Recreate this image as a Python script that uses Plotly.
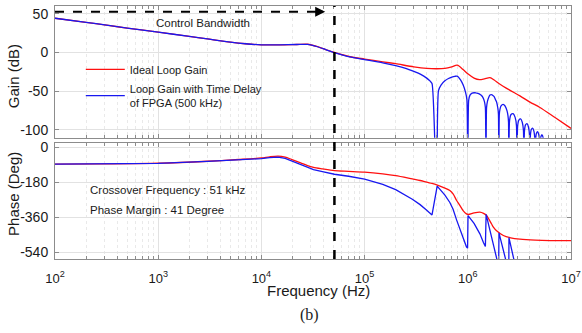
import math
import plotly.graph_objects as go

# ---------------- data ----------------
# Gain (dB) of the ideal loop
f_gain_ideal = [100, 200, 316, 500, 1000, 2000, 3000, 5000, 7000, 10000, 15000, 22000, 28000, 35000,
                42000, 51000, 72000, 100000, 150000, 200000, 300000, 400000, 500000, 600000, 700000,
                790000, 900000, 1000000, 1150000, 1300000, 1450000, 1640000, 1800000, 2000000, 2500000,
                3200000, 4000000, 5000000, 7000000, 10000000]
g_ideal = [44.2, 39.0, 35.2, 31.5, 26.2, 20.8, 17.5, 13.4, 11.3, 9.9, 9.8, 10.3, 10.6, 7.5,
           3.8, 0.0, -5.5, -8.5, -12.0, -14.5, -18.5, -20.5, -21.0, -20.5, -18.5,
           -16.3, -22.0, -27.5, -33.0, -35.0, -34.0, -32.5, -35.5, -40.0, -48.0,
           -56.0, -64.0, -71.0, -84.0, -98.0]

# Gain (dB) with FPGA time delay (notches read as far below the axis)
f_gain_delay = [100, 200, 316, 500, 1000, 2000, 3000, 5000, 7000, 10000, 15000, 22000, 28000, 35000,
                42000, 51000, 72000, 100000, 150000, 200000, 250000, 300000, 350000, 400000, 430000,
                450000, 500000, 520000, 550000, 600000, 650000, 700000, 750000, 790000, 850000, 900000,
                950000, 980000, 1000000, 1020000, 1050000, 1100000, 1150000, 1200000, 1250000, 1300000,
                1350000, 1400000, 1450000, 1480000, 1500000, 1520000, 1550000, 1600000, 1640000, 1700000,
                1750000, 1800000, 1850000, 1900000, 1950000, 1980000, 2000000, 2020000, 2050000, 2100000,
                2200000, 2250000, 2300000, 2400000, 2450000, 2480000, 2500000,
                2540000, 2625000, 2750000, 2875000, 2960000, 3000000,
                3040000, 3125000, 3250000, 3375000, 3460000, 3500000,
                3540000, 3625000, 3750000, 3875000, 3960000, 4000000,
                4040000, 4125000, 4250000, 4375000, 4460000, 4500000,
                4540000, 4625000, 4750000, 4875000, 4960000, 5000000,
                5040000, 5125000, 5250000, 5375000, 5460000, 5500000]
g_delay = [44.2, 39.0, 35.2, 31.5, 26.2, 20.8, 17.5, 13.4, 11.3, 9.9, 9.8, 10.3, 10.5, 7.4,
           3.7, -0.1, -5.8, -9.1, -13.3, -16.9, -20.4, -24.4, -28.2, -33.1, -36.7,
           -40.0, -200, -49.3, -42.0, -36.6, -33.6, -31.8, -30.7, -30.5, -35.4, -41.7,
           -51.2, -60.8, -200, -61.7, -55.1, -52.4, -52.0, -52.2, -52.7, -53.7,
           -55.2, -57.9, -63.4, -71.1, -200, -71.1, -63.2, -57.5, -55.0, -54.5,
           -55.5, -57.0, -60.6, -63.8, -71.0, -79.5, -200, -80.4, -73.4, -69.0,
           -67.0, -67.8, -69.3, -75.4, -81.5, -89.8, -200,
           -87.6, -80.0, -78.9, -83.7, -94.0, -200,
           -95.1, -87.2, -85.8, -90.3, -100.4, -200,
           -101.4, -93.5, -91.9, -96.5, -106.6, -200,
           -107.5, -99.4, -97.6, -101.9, -111.8, -200,
           -112.5, -104.2, -102.3, -106.2, -115.9, -200,
           -116.4, -108.1, -106.2, -110.1, -119.8, -200]

# Phase (deg) of the ideal loop
f_phase_ideal = [100, 300, 1000, 3000, 6000, 10000, 12000, 14500, 17000, 19500, 24000, 28000, 32000,
                 39000, 51000, 70000, 100000, 150000, 200000, 290000, 345000, 400000, 450000, 500000,
                 600000, 670000, 720000, 780000, 840000, 900000, 970000, 1010000, 1150000, 1310000,
                 1420000, 1520000, 1600000, 1700000, 1770000, 1900000, 2210000, 2600000, 3200000,
                 4500000, 6300000, 10000000]
p_ideal = [-87, -85.5, -82, -72, -63, -55, -49, -45.5, -51, -62, -80, -94, -103,
           -111, -120.5, -124, -128, -137, -146, -163, -171, -180, -186, -193,
           -210, -223, -240, -274, -300, -326, -343, -346, -338, -334,
           -340, -351, -370, -395, -411, -430, -454, -466, -473,
           -478, -480, -480]

# Phase (deg) with FPGA time delay
f_phase_delay = [100, 300, 1000, 3000, 6000, 10000, 12000, 14500, 17000, 19500, 24000, 28000, 32000,
                 39000, 51000, 70000, 100000, 150000, 200000, 290000, 345000, 400000, 450000, 505000,
                 600000, 670000, 720000, 780000, 840000, 900000, 970000, 995000, 1005000, 1150000,
                 1310000, 1420000, 1480000, 1505000, 1600000, 1700000, 1770000, 1900000, 1990000,
                 2005000, 2210000, 2400000, 2495000, 2505000, 2700000, 2900000]
p_delay = [-87.0, -85.6, -82.4, -73.1, -65.2, -58.6, -53.3, -50.7, -57.1, -69.0, -88.6, -104.1, -114.5,
           -125.0, -138.9, -149.2, -164.0, -191.0, -218.0, -267.4, -295.2, -324.0, -348.0, -200.0,
           -246.0, -284.2, -319.2, -374.8, -422.4, -470.0, -512.2, -519.0, -352.0, -392.0,
           -445.6, -491.2, -510.0, -345.0, -406.0, -467.0, -508.0, -574.0, -614.0,
           -441.0, -530.0, -605.0, -641.0, -465.0, -540.0, -615.0]

crossover_hz = 51000
bandwidth_start_hz = 100
bandwidth_arrow_tip_hz = 41500
bandwidth_level_db = 52.5

decades = [1e2, 1e3, 1e4, 1e5, 1e6, 1e7]
decade_labels = ["10<sup>2</sup>", "10<sup>3</sup>", "10<sup>4</sup>",
                 "10<sup>5</sup>", "10<sup>6</sup>", "10<sup>7</sup>"]
gain_ticks = [-100, -50, 0, 50]
gain_tick_labels = ["-100", "-50", "0", "50"]
phase_ticks = [-540, -360, -180, 0]
phase_tick_labels = ["-540", "-360", "-180", "0"]

# ---------------- styling ----------------
RED = "#ff1010"
BLUE = "#1818f0"
AX = "#8c8c8c"
GRID = "#e2e2e2"
MINOR = "#e9e9e9"
FONT = "Arial, 'Liberation Sans', sans-serif"
TXT = "#1a1a1a"

minor_vals = [m * d for d in decades[:-1] for m in range(2, 10)]

fig = go.Figure()
fig.add_trace(go.Scatter(x=f_gain_ideal, y=g_ideal, mode="lines", name="Ideal Loop Gain",
                         legendgroup="a", line=dict(color=RED, width=1.3, shape="spline", smoothing=0.8),
                         xaxis="x", yaxis="y"))
fig.add_trace(go.Scatter(x=f_gain_delay, y=g_delay, mode="lines",
                         name="Loop Gain with Time Delay<br>of FPGA (500 kHz)", legendgroup="b",
                         line=dict(color=BLUE, width=1.3, shape="spline", smoothing=0.6),
                         xaxis="x", yaxis="y"))
fig.add_trace(go.Scatter(x=f_phase_ideal, y=p_ideal, mode="lines", showlegend=False,
                         line=dict(color=RED, width=1.3, shape="spline", smoothing=0.8),
                         xaxis="x2", yaxis="y2"))
fig.add_trace(go.Scatter(x=f_phase_delay, y=p_delay, mode="lines", showlegend=False,
                         line=dict(color=BLUE, width=1.3), xaxis="x2", yaxis="y2"))
# control bandwidth dashed arrow shaft
fig.add_trace(go.Scatter(x=[bandwidth_start_hz, bandwidth_arrow_tip_hz * 0.9],
                         y=[bandwidth_level_db, bandwidth_level_db], mode="lines", showlegend=False,
                         line=dict(color="black", width=2, dash="dash"), xaxis="x", yaxis="y"))

axis_common = dict(showline=True, linecolor=AX, linewidth=1, mirror="ticks", ticks="inside",
                   ticklen=4, tickcolor=AX, showgrid=True, gridcolor=GRID, gridwidth=1,
                   zeroline=False, automargin=False)
x_common = dict(axis_common, type="log", range=[2, 7], tickmode="array", tickvals=decades,
                minor=dict(tickmode="array", tickvals=minor_vals, ticks="inside", ticklen=3,
                           tickcolor=AX, showgrid=True, gridcolor=MINOR, griddash="dot"))

fig.update_layout(
    width=582, height=333,
    margin=dict(l=55, r=11, t=6, b=74),
    paper_bgcolor="white", plot_bgcolor="white",
    font=dict(family=FONT, color=TXT),
    hovermode=False,
    xaxis=dict(x_common, anchor="y", domain=[0, 1], showticklabels=False),
    yaxis=dict(axis_common, anchor="x", domain=[0.4794, 1], range=[-110, 60], tickmode="array",
               tickvals=gain_ticks, ticktext=gain_tick_labels, tickfont=dict(size=14, color=TXT),
               ticklabelstandoff=3),
    xaxis2=dict(x_common, anchor="y2", domain=[0, 1], showticklabels=True, ticktext=decade_labels,
                tickfont=dict(size=13, color=TXT), ticklabelstandoff=7),
    yaxis2=dict(axis_common, anchor="x2", domain=[0, 0.457], range=[-575, 20], tickmode="array",
                tickvals=phase_ticks, ticktext=phase_tick_labels, tickfont=dict(size=14, color=TXT),
                ticklabelstandoff=3),
    legend=dict(x=0.05, y=0.807, xanchor="left", yanchor="top", bgcolor="rgba(0,0,0,0)",
                font=dict(size=11, color=TXT), itemwidth=39, tracegroupgap=1, traceorder="grouped"),
    shapes=[dict(type="line", xref="x", yref="paper", x0=crossover_hz, x1=crossover_hz, y0=0, y1=1,
                 line=dict(color="black", width=2.5, dash="dash"), layer="above")],
    annotations=[
        dict(text="", xref="x", yref="y", axref="x", ayref="y",
             x=math.log10(bandwidth_arrow_tip_hz), y=bandwidth_level_db,
             ax=math.log10(bandwidth_arrow_tip_hz * 0.8), ay=bandwidth_level_db,
             showarrow=True, arrowhead=2, arrowsize=1, arrowwidth=2, arrowcolor="black"),
        dict(text="Control Bandwidth", xref="paper", yref="paper", x=0.2868, y=0.9328,
             showarrow=False, xanchor="center", yanchor="middle", font=dict(size=11.5)),
        dict(text="Crossover Frequency : 51 kHz", xref="paper", yref="paper", x=0.064, y=0.2727,
             showarrow=False, xanchor="left", yanchor="middle", font=dict(size=11.5)),
        dict(text="Phase Margin : 41 Degree", xref="paper", yref="paper", x=0.064, y=0.1937,
             showarrow=False, xanchor="left", yanchor="middle", font=dict(size=11.5)),
        dict(text="Gain (dB)", xref="paper", yref="paper", x=-0.0805, y=0.7245, textangle=-90,
             showarrow=False, xanchor="center", yanchor="middle", font=dict(size=15)),
        dict(text="Phase (Deg)", xref="paper", yref="paper", x=-0.0805, y=0.259, textangle=-90,
             showarrow=False, xanchor="center", yanchor="middle", font=dict(size=15)),
        dict(text="Frequency (Hz)", xref="paper", yref="paper", x=0.5116, y=-0.1245,
             showarrow=False, xanchor="center", yanchor="middle", font=dict(size=15)),
        dict(text="(b)", xref="paper", yref="paper", x=0.494, y=-0.2213,
             showarrow=False, xanchor="center", yanchor="middle",
             font=dict(size=16, family="'Liberation Serif', 'DejaVu Serif', serif")),
    ],
)

fig.write_html("out.html", config={"displayModeBar": False},
               post_script="document.body.style.margin='0px';document.body.style.overflow='hidden';")
